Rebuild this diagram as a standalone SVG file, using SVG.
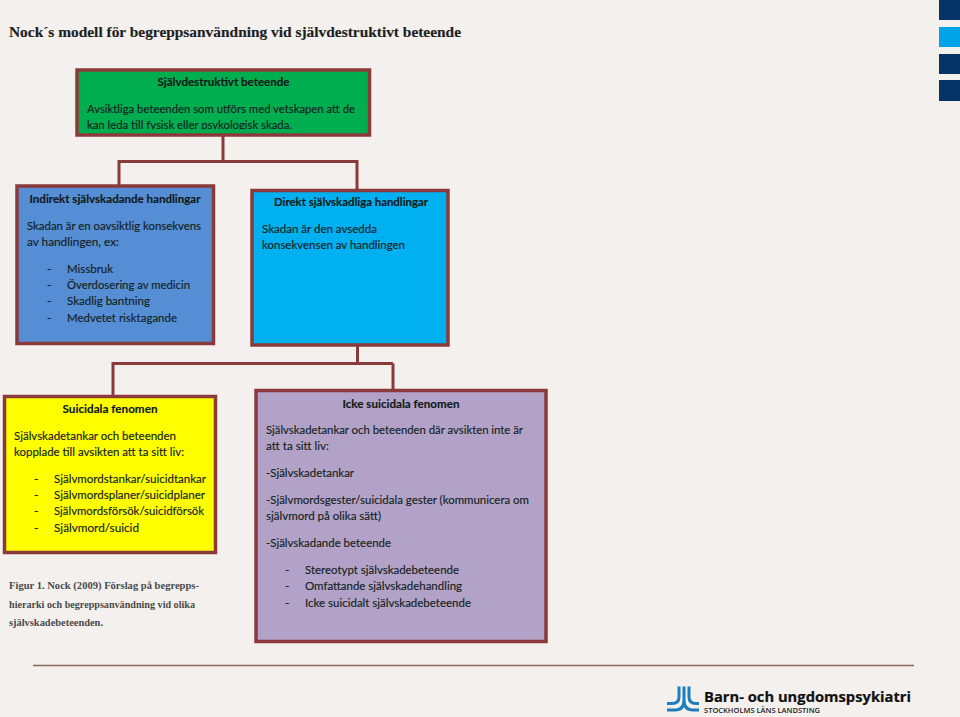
<svg xmlns="http://www.w3.org/2000/svg" width="960" height="717" viewBox="0 0 960 717">
<style>
.box{stroke:#8b3a3c;stroke-width:3.500}
.c{fill:none;stroke:#8b3a3c;stroke-width:3}
text{font-family:Lato,"Liberation Sans",sans-serif;font-size:12px;fill:#142222;stroke:#142222;stroke-width:.15}
.b{font-weight:700;fill:#101818}
.s{font-family:"Liberation Serif",serif}
.t{font-size:15.500px;font-weight:700;fill:#1f1f1f}
.f{font-size:11px;font-weight:700;fill:#4a4a4a;stroke:none}
.m{fill:none;stroke:#1f7dbd;stroke-width:3}
</style>
<defs><clipPath id="gc"><rect x="78" y="70" width="290" height="59.500"/></clipPath></defs>
<rect width="960" height="717" fill="#f3f0ed"/>
<g id="corner">
<rect x="939" y="0" width="21" height="20" fill="#073468"/>
<rect x="939" y="27" width="21" height="20" fill="#00a3e6"/>
<rect x="939" y="54" width="21" height="20" fill="#073468"/>
<rect x="939" y="80" width="21" height="21" fill="#073468"/>
</g>
<text class="s t" x="9" y="37" textLength="452" lengthAdjust="spacingAndGlyphs">Nock´s modell för begreppsanvändning vid självdestruktivt beteende</text>
<g id="connectors">
<path class="c" d="M223 135V161.500M119 186V161.500H357V190"/>
<path class="c" d="M357.500 345V363M113 396V363.500H393M393 363.500V390"/>
</g>
<g id="n1">
<rect class="box" x="77" y="70" width="292.500" height="65" fill="#00ae4f"/>
<text class="b" x="223.500" y="86" text-anchor="middle" textLength="132" lengthAdjust="spacingAndGlyphs">Självdestruktivt beteende</text>
<g clip-path="url(#gc)">
<text x="87" y="113" textLength="268" lengthAdjust="spacingAndGlyphs">Avsiktliga beteenden som utförs med vetskapen att de</text>
<text x="87" y="129" textLength="205" lengthAdjust="spacingAndGlyphs">kan leda till fysisk eller psykologisk skada.</text>
</g>
</g>
<g id="n2">
<rect class="box" x="17" y="186" width="196.500" height="157.500" fill="#558ed5"/>
<text class="b" x="115" y="203" text-anchor="middle" textLength="171" lengthAdjust="spacingAndGlyphs">Indirekt självskadande handlingar</text>
<text x="27" y="230" textLength="174" lengthAdjust="spacingAndGlyphs">Skadan är en oavsiktlig konsekvens</text>
<text x="27" y="246" textLength="92" lengthAdjust="spacingAndGlyphs">av handlingen, ex:</text>
<text x="47" y="273">-</text><text x="67" y="273" textLength="46" lengthAdjust="spacingAndGlyphs">Missbruk</text>
<text x="47" y="289">-</text><text x="67" y="289" textLength="123" lengthAdjust="spacingAndGlyphs">Överdosering av medicin</text>
<text x="47" y="305">-</text><text x="67" y="305" textLength="83" lengthAdjust="spacingAndGlyphs">Skadlig bantning</text>
<text x="47" y="322">-</text><text x="67" y="322" textLength="110" lengthAdjust="spacingAndGlyphs">Medvetet risktagande</text>
</g>
<g id="n3">
<rect class="box" x="252" y="190.500" width="196" height="154.500" fill="#00b0f0"/>
<text class="b" x="351" y="206" text-anchor="middle" textLength="154" lengthAdjust="spacingAndGlyphs">Direkt självskadliga handlingar</text>
<text x="262" y="233" textLength="115" lengthAdjust="spacingAndGlyphs">Skadan är den avsedda</text>
<text x="262" y="249" textLength="143" lengthAdjust="spacingAndGlyphs">konsekvensen av handlingen</text>
</g>
<g id="n4">
<rect class="box" x="4.500" y="396.500" width="211" height="156" fill="#ffff00"/>
<text class="b" x="110" y="412.500" text-anchor="middle" textLength="95" lengthAdjust="spacingAndGlyphs">Suicidala fenomen</text>
<text x="14" y="440" textLength="162" lengthAdjust="spacingAndGlyphs">Självskadetankar och beteenden</text>
<text x="14" y="456" textLength="170" lengthAdjust="spacingAndGlyphs">kopplade till avsikten att ta sitt liv:</text>
<text x="34" y="483">-</text><text x="54" y="483" textLength="152" lengthAdjust="spacingAndGlyphs">Självmordstankar/suicidtankar</text>
<text x="34" y="499">-</text><text x="54" y="499" textLength="151" lengthAdjust="spacingAndGlyphs">Självmordsplaner/suicidplaner</text>
<text x="34" y="515">-</text><text x="54" y="515" textLength="150" lengthAdjust="spacingAndGlyphs">Självmordsförsök/suicidförsök</text>
<text x="34" y="532">-</text><text x="54" y="532" textLength="85" lengthAdjust="spacingAndGlyphs">Självmord/suicid</text>
</g>
<g id="n5">
<rect class="box" x="256" y="390.500" width="290" height="251" fill="#b2a2c7"/>
<text class="b" x="401" y="407.500" text-anchor="middle" textLength="117" lengthAdjust="spacingAndGlyphs">Icke suicidala fenomen</text>
<text x="266" y="434" textLength="257" lengthAdjust="spacingAndGlyphs">Självskadetankar och beteenden där avsikten inte är</text>
<text x="266" y="450" textLength="63" lengthAdjust="spacingAndGlyphs">att ta sitt liv:</text>
<text x="266" y="477" textLength="88" lengthAdjust="spacingAndGlyphs">-Självskadetankar</text>
<text x="266" y="504" textLength="263" lengthAdjust="spacingAndGlyphs">-Självmordsgester/suicidala gester (kommunicera om</text>
<text x="266" y="520" textLength="115" lengthAdjust="spacingAndGlyphs">självmord på olika sätt)</text>
<text x="266" y="547" textLength="125" lengthAdjust="spacingAndGlyphs">-Självskadande beteende</text>
<text x="285" y="574">-</text><text x="305" y="574" textLength="154" lengthAdjust="spacingAndGlyphs">Stereotypt självskadebeteende</text>
<text x="285" y="590">-</text><text x="305" y="590" textLength="157" lengthAdjust="spacingAndGlyphs">Omfattande självskadehandling</text>
<text x="285" y="607">-</text><text x="305" y="607" textLength="166" lengthAdjust="spacingAndGlyphs">Icke suicidalt självskadebeteende</text>
</g>
<g id="caption">
<text class="s f" x="9" y="589" textLength="190" lengthAdjust="spacingAndGlyphs">Figur 1. Nock (2009)  Förslag på begrepps-</text>
<text class="s f" x="9" y="608" textLength="186" lengthAdjust="spacingAndGlyphs">hierarki  och begreppsanvändning vid olika</text>
<text class="s f" x="9" y="626" textLength="94" lengthAdjust="spacingAndGlyphs">självskadebeteenden.</text>
</g>
<path d="M33 665.500H914" stroke="#8a6a55" stroke-width="1.500" fill="none"/>
<g id="logo">
<path class="m" d="M679 686.500V697Q679 703.500 672 703.500H667M689 686.500V697Q689 703.500 696 703.500H699M684 686.500V700Q684 710 675 710H667M684 700Q684 710 693 710H699"/>
<text x="704" y="702" style="font-family:'Open Sans',sans-serif;font-size:15px;font-weight:700;fill:#111;stroke:#111;stroke-width:.2" textLength="207" lengthAdjust="spacingAndGlyphs">Barn- och ungdomspsykiatri</text>
<text x="704" y="713" style="font-family:'Open Sans',sans-serif;font-size:7px;font-weight:600;fill:#222;stroke:none" textLength="116" lengthAdjust="spacingAndGlyphs">STOCKHOLMS LÄNS LANDSTING</text>
</g>
</svg>
